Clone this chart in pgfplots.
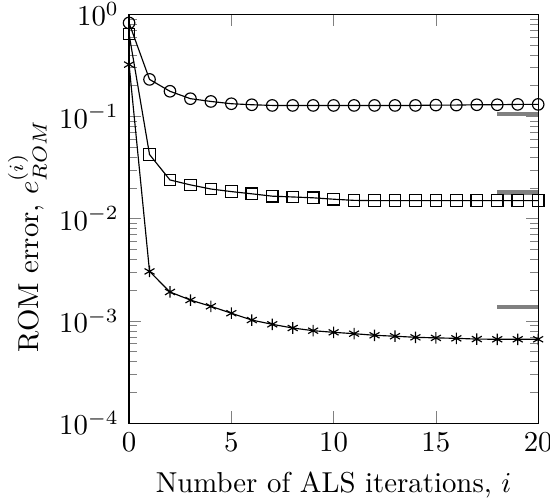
\documentclass[border=0pt]{standalone}
\usepackage{pgfplots}
\pgfplotsset{compat=1.18}
\begin{document}
\begin{tikzpicture}
\begin{axis}[
  width=142pt, height=142pt,
  scale only axis,
  ymode=log,
  xmin=0, xmax=20,
  ymin=1e-4, ymax=1,
  xtick={0,5,10,15,20},
  xlabel={Number of ALS iterations, $i$},
  ylabel={ROM error, $e_{ROM}^{(i)}$},
  ylabel style={xshift=-6pt, yshift=-2.5pt},
  clip=false,
]
\addplot[black, mark=o, mark options={solid}] coordinates {
  (0,0.82) (1,0.23) (2,0.176) (3,0.149) (4,0.140) (5,0.133) (6,0.130)
  (7,0.128) (8,0.128) (9,0.128) (10,0.128) (11,0.128) (12,0.128) (13,0.128)
  (14,0.128) (15,0.129) (16,0.129) (17,0.130) (18,0.130) (19,0.131) (20,0.131)};
\addplot[black, mark=square, mark options={solid}] coordinates {
  (0,0.637) (1,0.0424) (2,0.0239) (3,0.0214) (4,0.0195) (5,0.0184) (6,0.0175)
  (7,0.0166) (8,0.0163) (9,0.0160) (10,0.0155) (11,0.0151) (12,0.0150) (13,0.0150)
  (14,0.0150) (15,0.0150) (16,0.0150) (17,0.0150) (18,0.0150) (19,0.0150) (20,0.0150)};
\addplot[black, mark=asterisk, mark options={solid}] coordinates {
  (0,0.321) (1,0.00305) (2,0.00192) (3,0.00160) (4,0.00139) (5,0.00119) (6,0.00102)
  (7,0.000927) (8,0.000853) (9,0.000803) (10,0.000774) (11,0.000751) (12,0.000724)
  (13,0.000709) (14,0.000692) (15,0.000683) (16,0.000676) (17,0.000665) (18,0.000662)
  (19,0.000662) (20,0.000662)};
% reference levels
\addplot[gray, line width=1.5pt, no marks] coordinates {(18,0.105) (20,0.105)};
\addplot[gray, line width=1.5pt, no marks] coordinates {(18,0.018) (20,0.018)};
\addplot[gray, line width=1.5pt, no marks] coordinates {(18,0.00137) (20,0.00137)};
\end{axis}
% the original figure is cropped tightly at the right edge
\pgfresetboundingbox
\useasboundingbox ([xshift=-44.8pt,yshift=-26.1pt]current axis.south west)
  rectangle ([xshift=4.1pt,yshift=4.9pt]current axis.north east);
\end{tikzpicture}
\end{document}
